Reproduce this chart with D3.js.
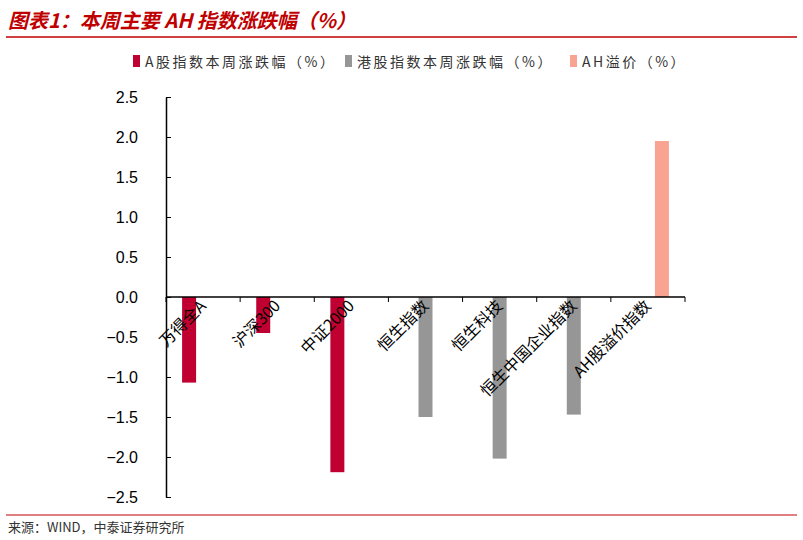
<!DOCTYPE html>
<meta charset="utf-8">
<style>
  body { margin: 0; background: #fff; }
  text { font-family: "Noto Sans CJK SC", sans-serif; }
</style>
<div id="main"></div>
<script src="https://cdn.jsdelivr.net/npm/d3@7"></script>
<script>
  var categories = ['万得全A', '沪深300', '中证2000', '恒生指数', '恒生科技', '恒生中国企业指数', 'AH股溢价指数'];
  var seriesNames = ['A股指数本周涨跌幅（%）', '港股指数本周涨跌幅（%）', 'AH溢价（%）'];
  var aShare = [-1.07, -0.45, -2.19, null, null, null, null];
  var hkShare = [null, null, null, -1.50, -2.02, -1.47, null];
  var ahPremium = [null, null, null, null, null, null, 1.95];
  var yTicks = [2.5, 2.0, 1.5, 1.0, 0.5, 0.0, -0.5, -1.0, -1.5, -2.0, -2.5];
  var colors = ['#c00030', '#969696', '#f9a393'];

  var svg = d3.select('#main').append('svg').attr('width', 803).attr('height', 540);

  svg.append('text').attr('x', 8).attr('y', 28)
    .attr('fill', '#c00000').attr('font-size', 20).attr('font-weight', 'bold').attr('font-style', 'italic')
    .text('图表1：本周主要 AH 指数涨跌幅（%）');
  svg.append('line').attr('x1', 6).attr('x2', 797).attr('y1', 37).attr('y2', 37)
    .attr('stroke', '#c00000').attr('stroke-width', 1.5);

  var y = d3.scaleLinear().domain([-2.5, 2.5]).range([497, 97]);
  var x = d3.scaleBand().domain(categories).range([166, 685]);
  var sub = d3.scaleBand().domain([0, 1, 2]).range([0, x.bandwidth()]).paddingInner(0).paddingOuter(1.15);

  // legend
  var lx = [133, 345, 570];
  seriesNames.forEach(function(n, i) {
    var g = svg.append('g').attr('transform', 'translate(' + lx[i] + ',61)');
    g.append('rect').attr('x', 0).attr('y', -6).attr('width', 7).attr('height', 12).attr('fill', colors[i]);
    g.append('text').attr('x', 12).attr('y', 6).attr('font-size', 14).attr('letter-spacing', 2.5)
      .attr('fill', '#333').text(n);
  });

  // bars
  [aShare, hkShare, ahPremium].forEach(function(vals, s) {
    svg.append('g').selectAll('rect')
      .data(vals.map(function(v, i) { return {v: v, c: categories[i]}; }).filter(function(d) { return d.v !== null; }))
      .join('rect')
      .attr('x', function(d) { return x(d.c) + sub(s); })
      .attr('width', sub.bandwidth())
      .attr('y', function(d) { return y(Math.max(0, d.v)); })
      .attr('height', function(d) { return Math.abs(y(d.v) - y(0)); })
      .attr('fill', colors[s]);
  });

  // y axis
  var yAxis = svg.append('g').attr('transform', 'translate(166,0)')
    .call(d3.axisLeft(y).tickValues(yTicks).tickFormat(d3.format('.1f')).tickSize(5).tickSizeOuter(0));
  yAxis.selectAll('text').attr('font-size', 16).attr('fill', '#000').attr('dx', -20).style('font-family', '"Liberation Sans", sans-serif');
  yAxis.selectAll('line').attr('x2', 5).attr('stroke', '#000');
  yAxis.select('.domain').attr('stroke', '#000').attr('stroke-width', 1.5);

  // x axis at zero
  var xAxis = svg.append('g').attr('transform', 'translate(0,' + y(0) + ')');
  xAxis.append('line').attr('x1', 166).attr('x2', 685).attr('stroke', '#000').attr('stroke-width', 1.5);
  xAxis.selectAll('line.tk').data(d3.range(categories.length + 1)).join('line').attr('class', 'tk')
    .attr('x1', function(i) { return 166 + i * x.step(); }).attr('x2', function(i) { return 166 + i * x.step(); })
    .attr('y1', 0).attr('y2', 5).attr('stroke', '#000');
  xAxis.selectAll('text').data(categories).join('text')
    .attr('transform', function(d) { return 'translate(' + (x(d) + x.bandwidth() / 2 + 4) + ',10) rotate(-45)'; })
    .attr('text-anchor', 'end').attr('font-size', 16).attr('fill', '#000').text(function(d) { return d; });

  svg.append('line').attr('x1', 6).attr('x2', 797).attr('y1', 515).attr('y2', 515)
    .attr('stroke', '#c00000').attr('stroke-width', 1);
  svg.append('text').attr('x', 8).attr('y', 532).attr('font-size', 13).attr('fill', '#333')
    .text('来源：WIND，中泰证券研究所');
</script>
